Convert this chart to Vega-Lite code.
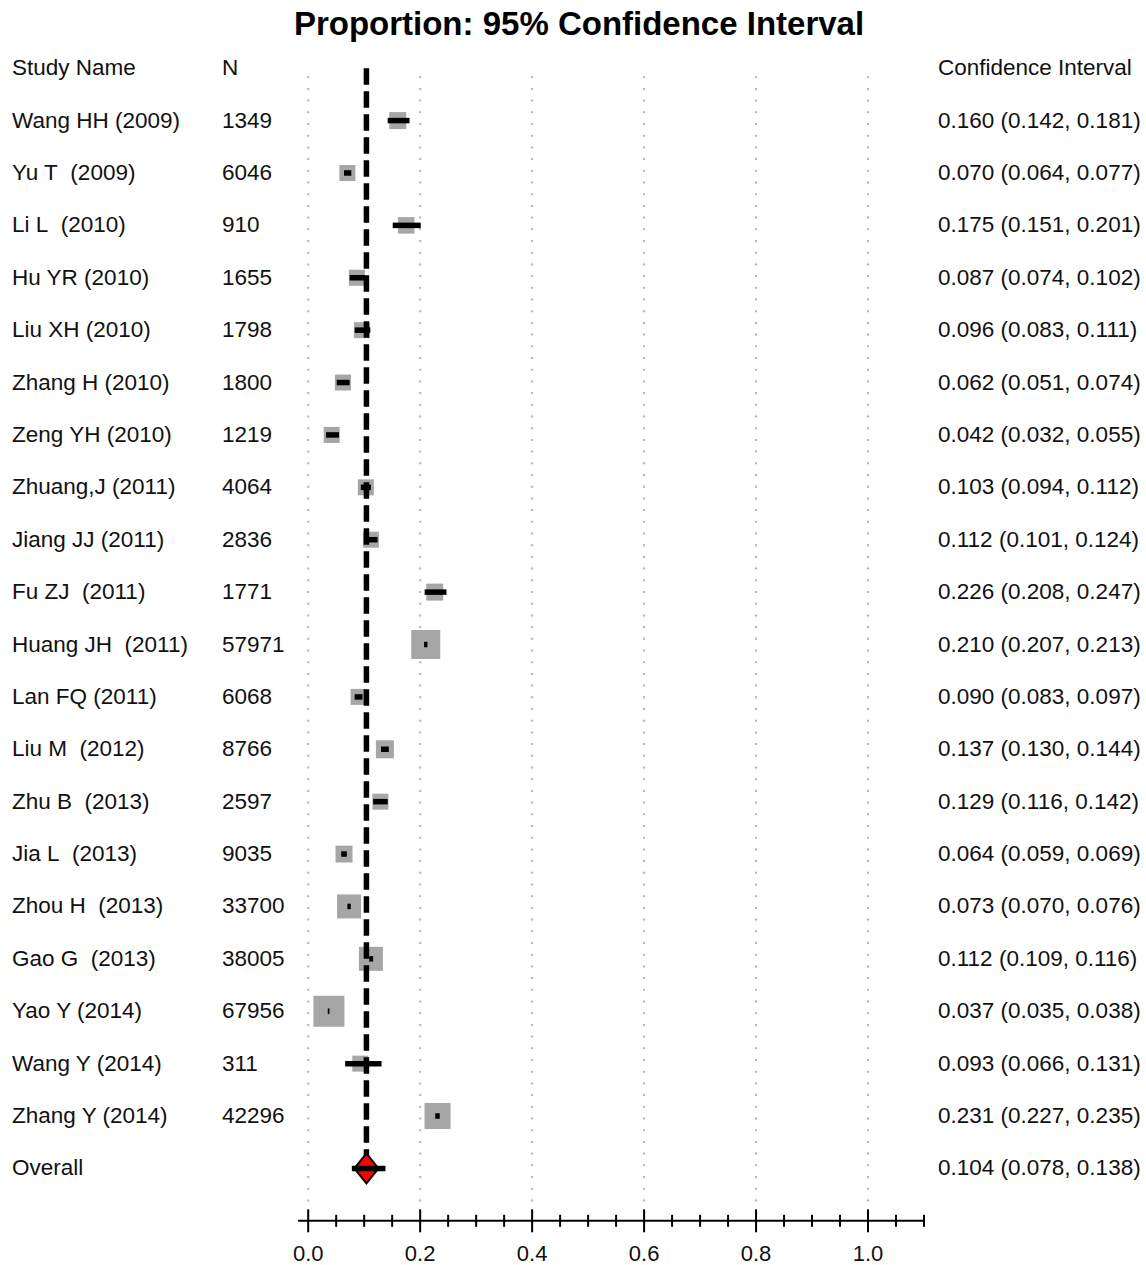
{
  "$schema": "https://vega.github.io/schema/vega-lite/v6.json",
  "padding": {"left": 12, "top": 9, "right": 0, "bottom": 0},
  "background": "white",
  "title": {"text": "Proportion: 95% Confidence Interval", "font": "Liberation Sans", "fontSize": 33, "fontWeight": "bold", "color": "#000000", "anchor": "middle", "offset": 0},
  "spacing": 0,
  "bounds": "flush",
  "config": {"view": {"stroke": null}, "text": {"font": "Liberation Sans", "fontSize": 22.5, "color": "#111111"}},
  "datasets": {
    "rows": [
      {"id": "h", "kind": "header", "name": "Study Name", "n": "N", "ci": "Confidence Interval"},
      {"id": "s01", "kind": "study", "name": "Wang HH (2009)", "n": "1349", "ci": "0.160 (0.142, 0.181)", "p": 0.160, "lo": 0.142, "hi": 0.181, "w": 28.9},
      {"id": "s02", "kind": "study", "name": "Yu T\u00a0 (2009)", "n": "6046", "ci": "0.070 (0.064, 0.077)", "p": 0.070, "lo": 0.064, "hi": 0.077, "w": 25.6},
      {"id": "s03", "kind": "study", "name": "Li L\u00a0 (2010)", "n": "910", "ci": "0.175 (0.151, 0.201)", "p": 0.175, "lo": 0.151, "hi": 0.201, "w": 27.2},
      {"id": "s04", "kind": "study", "name": "Hu YR (2010)", "n": "1655", "ci": "0.087 (0.074, 0.102)", "p": 0.087, "lo": 0.074, "hi": 0.102, "w": 25.6},
      {"id": "s05", "kind": "study", "name": "Liu XH (2010)", "n": "1798", "ci": "0.096 (0.083, 0.111)", "p": 0.096, "lo": 0.083, "hi": 0.111, "w": 25.6},
      {"id": "s06", "kind": "study", "name": "Zhang H (2010)", "n": "1800", "ci": "0.062 (0.051, 0.074)", "p": 0.062, "lo": 0.051, "hi": 0.074, "w": 25.6},
      {"id": "s07", "kind": "study", "name": "Zeng YH (2010)", "n": "1219", "ci": "0.042 (0.032, 0.055)", "p": 0.042, "lo": 0.032, "hi": 0.055, "w": 25.6},
      {"id": "s08", "kind": "study", "name": "Zhuang,J (2011)", "n": "4064", "ci": "0.103 (0.094, 0.112)", "p": 0.103, "lo": 0.094, "hi": 0.112, "w": 25.6},
      {"id": "s09", "kind": "study", "name": "Jiang JJ (2011)", "n": "2836", "ci": "0.112 (0.101, 0.124)", "p": 0.112, "lo": 0.101, "hi": 0.124, "w": 25.6},
      {"id": "s10", "kind": "study", "name": "Fu ZJ\u00a0 (2011)", "n": "1771", "ci": "0.226 (0.208, 0.247)", "p": 0.226, "lo": 0.208, "hi": 0.247, "w": 28.9},
      {"id": "s11", "kind": "study", "name": "Huang JH\u00a0 (2011)", "n": "57971", "ci": "0.210 (0.207, 0.213)", "p": 0.210, "lo": 0.207, "hi": 0.213, "w": 84.1},
      {"id": "s12", "kind": "study", "name": "Lan FQ (2011)", "n": "6068", "ci": "0.090 (0.083, 0.097)", "p": 0.090, "lo": 0.083, "hi": 0.097, "w": 25.6},
      {"id": "s13", "kind": "study", "name": "Liu M\u00a0 (2012)", "n": "8766", "ci": "0.137 (0.130, 0.144)", "p": 0.137, "lo": 0.130, "hi": 0.144, "w": 32.4},
      {"id": "s14", "kind": "study", "name": "Zhu B\u00a0 (2013)", "n": "2597", "ci": "0.129 (0.116, 0.142)", "p": 0.129, "lo": 0.116, "hi": 0.142, "w": 25.6},
      {"id": "s15", "kind": "study", "name": "Jia L\u00a0 (2013)", "n": "9035", "ci": "0.064 (0.059, 0.069)", "p": 0.064, "lo": 0.059, "hi": 0.069, "w": 28.9},
      {"id": "s16", "kind": "study", "name": "Zhou H\u00a0 (2013)", "n": "33700", "ci": "0.073 (0.070, 0.076)", "p": 0.073, "lo": 0.070, "hi": 0.076, "w": 57.6},
      {"id": "s17", "kind": "study", "name": "Gao G\u00a0 (2013)", "n": "38005", "ci": "0.112 (0.109, 0.116)", "p": 0.112, "lo": 0.109, "hi": 0.116, "w": 57.6},
      {"id": "s18", "kind": "study", "name": "Yao Y (2014)", "n": "67956", "ci": "0.037 (0.035, 0.038)", "p": 0.037, "lo": 0.035, "hi": 0.038, "w": 96.1},
      {"id": "s19", "kind": "study", "name": "Wang Y (2014)", "n": "311", "ci": "0.093 (0.066, 0.131)", "p": 0.093, "lo": 0.066, "hi": 0.131, "w": 25.6},
      {"id": "s20", "kind": "study", "name": "Zhang Y (2014)", "n": "42296", "ci": "0.231 (0.227, 0.235)", "p": 0.231, "lo": 0.227, "hi": 0.235, "w": 67.6},
      {"id": "ov", "kind": "overall", "name": "Overall", "n": "", "ci": "0.104 (0.078, 0.138)", "p": 0.104, "lo": 0.078, "hi": 0.138}
    ],
    "ref": [{"id": "h", "p": 0.104, "o": 1}, {"id": "ov", "p": 0.104, "o": 2}],
    "grid": [
      {"g": 0.0, "id": "h", "o": 1}, {"g": 0.0, "id": "ax", "o": 2},
      {"g": 0.2, "id": "h", "o": 1}, {"g": 0.2, "id": "ax", "o": 2},
      {"g": 0.4, "id": "h", "o": 1}, {"g": 0.4, "id": "ax", "o": 2},
      {"g": 0.6, "id": "h", "o": 1}, {"g": 0.6, "id": "ax", "o": 2},
      {"g": 0.8, "id": "h", "o": 1}, {"g": 0.8, "id": "ax", "o": 2},
      {"g": 1.0, "id": "h", "o": 1}, {"g": 1.0, "id": "ax", "o": 2}
    ],
    "ticks": [
      {"v": 0.0, "major": true, "id": "ax"}, {"v": 0.05, "major": false, "id": "ax"}, {"v": 0.1, "major": false, "id": "ax"}, {"v": 0.15, "major": false, "id": "ax"},
      {"v": 0.2, "major": true, "id": "ax"}, {"v": 0.25, "major": false, "id": "ax"}, {"v": 0.3, "major": false, "id": "ax"}, {"v": 0.35, "major": false, "id": "ax"},
      {"v": 0.4, "major": true, "id": "ax"}, {"v": 0.45, "major": false, "id": "ax"}, {"v": 0.5, "major": false, "id": "ax"}, {"v": 0.55, "major": false, "id": "ax"},
      {"v": 0.6, "major": true, "id": "ax"}, {"v": 0.65, "major": false, "id": "ax"}, {"v": 0.7, "major": false, "id": "ax"}, {"v": 0.75, "major": false, "id": "ax"},
      {"v": 0.8, "major": true, "id": "ax"}, {"v": 0.85, "major": false, "id": "ax"}, {"v": 0.9, "major": false, "id": "ax"}, {"v": 0.95, "major": false, "id": "ax"},
      {"v": 1.0, "major": true, "id": "ax"}, {"v": 1.05, "major": false, "id": "ax"}, {"v": 1.1, "major": false, "id": "ax"}
    ],
    "axisline": [{"from": -0.018, "to": 1.1, "id": "ax"}]
  },
  "hconcat": [
    {
      "width": 210, "height": 1205,
      "data": {"name": "rows"},
      "mark": {"type": "text", "align": "left", "baseline": "middle"},
      "encoding": {
        "x": {"value": 0},
        "y": {"field": "id", "type": "nominal", "scale": {"type": "point", "domain": ["h","s01","s02","s03","s04","s05","s06","s07","s08","s09","s10","s11","s12","s13","s14","s15","s16","s17","s18","s19","s20","ov","ax"], "padding": 0.5}, "axis": null},
        "text": {"field": "name"}
      }
    },
    {
      "width": 75, "height": 1205,
      "data": {"name": "rows"},
      "mark": {"type": "text", "align": "left", "baseline": "middle"},
      "encoding": {
        "x": {"value": 0},
        "y": {"field": "id", "type": "nominal", "scale": {"type": "point", "domain": ["h","s01","s02","s03","s04","s05","s06","s07","s08","s09","s10","s11","s12","s13","s14","s15","s16","s17","s18","s19","s20","ov","ax"], "padding": 0.5}, "axis": null},
        "text": {"field": "n"}
      }
    },
    {
      "width": 641, "height": 1205,
      "encoding": {
        "x": {"type": "quantitative", "scale": {"domain": [-0.02, 1.125], "nice": false, "zero": false}, "axis": null},
        "y": {"field": "id", "type": "nominal", "scale": {"type": "point", "domain": ["h","s01","s02","s03","s04","s05","s06","s07","s08","s09","s10","s11","s12","s13","s14","s15","s16","s17","s18","s19","s20","ov","ax"], "padding": 0.5}, "axis": null}
      },
      "layer": [
        {
          "data": {"name": "grid"},
          "mark": {"type": "line", "color": "#b3b3b3", "strokeWidth": 2, "strokeDash": [2, 9.7], "yOffset": 8},
          "encoding": {
            "x": {"field": "g", "type": "quantitative"},
            "detail": {"field": "g", "type": "nominal"},
            "order": {"field": "o", "type": "quantitative"}
          }
        },
        {
          "data": {"name": "rows"},
          "transform": [{"filter": "datum.kind == 'study'"}],
          "mark": {"type": "point", "shape": "square", "filled": true, "color": "#a6a6a6", "opacity": 1},
          "encoding": {
            "x": {"field": "p", "type": "quantitative"},
            "size": {"field": "w", "type": "quantitative", "scale": {"type": "linear", "domain": [0, 100], "range": [0, 1000]}, "legend": null}
          }
        },
        {
          "data": {"name": "rows"},
          "transform": [{"filter": "datum.kind == 'study'"}],
          "mark": {"type": "rule", "color": "#000000", "strokeWidth": 5.5},
          "encoding": {
            "x": {"field": "lo", "type": "quantitative"},
            "x2": {"field": "hi"}
          }
        },
        {
          "data": {"name": "ref"},
          "mark": {"type": "line", "color": "#000000", "strokeWidth": 5.5, "strokeDash": [16.5, 6.5], "strokeCap": "butt"},
          "encoding": {
            "x": {"field": "p", "type": "quantitative"},
            "order": {"field": "o", "type": "quantitative"}
          }
        },
        {
          "data": {"name": "rows"},
          "transform": [{"filter": "datum.kind == 'overall'"}],
          "mark": {"type": "point", "shape": "M-0.8,0L0,-1L0.8,0L0,1Z", "filled": true, "fill": "#ff0000", "stroke": "#000000", "strokeWidth": 2, "size": 900, "opacity": 1},
          "encoding": {
            "x": {"field": "p", "type": "quantitative"}
          }
        },
        {
          "data": {"name": "rows"},
          "transform": [{"filter": "datum.kind == 'overall'"}],
          "mark": {"type": "rule", "color": "#000000", "strokeWidth": 5.5},
          "encoding": {
            "x": {"field": "lo", "type": "quantitative"},
            "x2": {"field": "hi"}
          }
        },
        {
          "data": {"name": "axisline"},
          "mark": {"type": "rule", "color": "#000000", "strokeWidth": 2},
          "encoding": {
            "x": {"field": "from", "type": "quantitative"},
            "x2": {"field": "to"}
          }
        },
        {
          "data": {"name": "ticks"},
          "transform": [{"filter": "datum.major"}],
          "mark": {"type": "tick", "orient": "vertical", "color": "#000000", "size": 23, "thickness": 2, "opacity": 1},
          "encoding": {
            "x": {"field": "v", "type": "quantitative"}
          }
        },
        {
          "data": {"name": "ticks"},
          "transform": [{"filter": "!datum.major"}],
          "mark": {"type": "tick", "orient": "vertical", "color": "#000000", "size": 12, "thickness": 2, "opacity": 1},
          "encoding": {
            "x": {"field": "v", "type": "quantitative"}
          }
        },
        {
          "data": {"name": "ticks"},
          "transform": [{"filter": "datum.major"}],
          "mark": {"type": "text", "align": "center", "baseline": "middle", "dy": 33, "fontSize": 22},
          "encoding": {
            "x": {"field": "v", "type": "quantitative"},
            "text": {"field": "v", "type": "quantitative", "format": ".1f"}
          }
        }
      ]
    },
    {
      "width": 208, "height": 1205,
      "data": {"name": "rows"},
      "mark": {"type": "text", "align": "left", "baseline": "middle"},
      "encoding": {
        "x": {"value": 0},
        "y": {"field": "id", "type": "nominal", "scale": {"type": "point", "domain": ["h","s01","s02","s03","s04","s05","s06","s07","s08","s09","s10","s11","s12","s13","s14","s15","s16","s17","s18","s19","s20","ov","ax"], "padding": 0.5}, "axis": null},
        "text": {"field": "ci"}
      }
    }
  ]
}
